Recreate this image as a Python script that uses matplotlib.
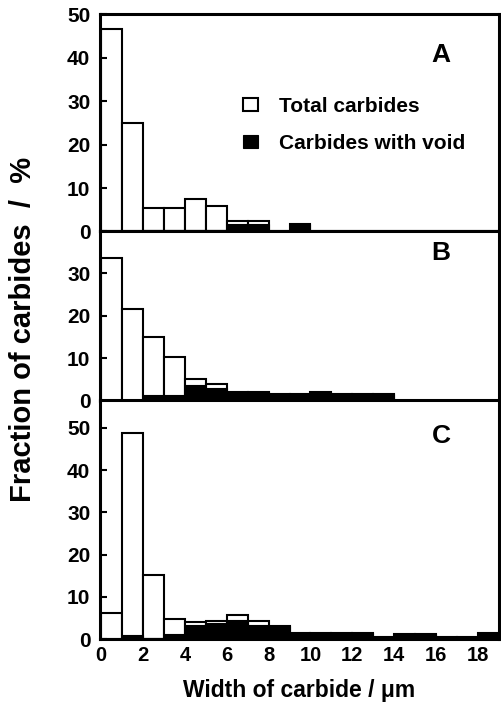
import matplotlib
matplotlib.use("Agg")
import matplotlib.pyplot as plt
import numpy as np

plt.rcParams['font.family'] = ['Liberation Sans', 'DejaVu Sans']
plt.rcParams['font.weight'] = 'bold'

# bin left edges, width 1 um
bins = np.arange(19)

total_A = [46.6, 25.0, 5.3, 5.5, 7.4, 5.9, 2.3, 2.4, 0, 1.8, 0, 0, 0, 0, 0, 0, 0, 0, 0]
void_A = [0, 0, 0.3, 0.3, 0.3, 0.3, 1.8, 1.8, 0, 1.8, 0, 0, 0, 0, 0, 0, 0, 0, 0]

total_B = [33.5, 21.5, 15.0, 10.3, 5.0, 3.9, 1.9, 1.9, 1.5, 1.5, 1.9, 1.5, 1.5, 1.5, 0, 0, 0, 0, 0]
void_B = [0, 0, 1.2, 1.2, 3.6, 2.9, 1.9, 1.9, 1.5, 1.5, 1.9, 1.5, 1.5, 1.5, 0, 0, 0, 0, 0]

total_C = [6.1, 48.9, 15.2, 4.7, 4.0, 4.4, 5.7, 4.2, 3.1, 1.4, 1.4, 1.4, 1.4, 0.6, 1.2, 1.2, 0.6, 0.6, 1.5]
void_C = [0, 1.0, 0.4, 1.2, 3.4, 3.8, 4.6, 3.4, 3.1, 1.4, 1.4, 1.4, 1.4, 0.6, 1.2, 1.2, 0.6, 0.6, 1.5]

panels = [
    ("A", total_A, void_A, 50, [0, 10, 20, 30, 40, 50]),
    ("B", total_B, void_B, 39.8, [0, 10, 20, 30]),
    ("C", total_C, void_C, 56.5, [0, 10, 20, 30, 40, 50]),
]
# axes boxes in figure fractions (left, bottom, width, height)
boxes = [
    (0.1992, 0.6722, 0.7948, 0.3074),
    (0.1992, 0.4327, 0.7948, 0.2395),
    (0.1992, 0.0946, 0.7948, 0.3382),
]
letter_y = [0.811, 0.871, 0.852]

fig = plt.figure(figsize=(5.02, 7.06), dpi=100)

for i, (name, tot, void, ytop, yt) in enumerate(panels):
    ax = fig.add_axes(boxes[i])
    tb = ax.bar(bins, tot, width=1, align='edge', color='white',
                edgecolor='black', linewidth=1.5)
    vb = ax.bar(bins, void, width=1, align='edge', color='black',
                edgecolor='black', linewidth=0.8)
    ax.set_xlim(-0.05, 19)
    ax.set_ylim(0, ytop)
    ax.set_yticks(yt)
    ax.set_xticks(range(0, 19, 2))
    ax.tick_params(axis='y', direction='in', length=5, width=1.5,
                   labelsize=15, pad=7)
    ax.tick_params(axis='x', length=0, labelsize=14.5, pad=5)
    for s in ax.spines.values():
        s.set_linewidth(2.2)
    ax.text(0.855, letter_y[i], name, transform=ax.transAxes,
            ha='center', va='center', fontsize=19, fontweight='bold')
    if i < 2:
        ax.tick_params(axis='x', labelbottom=False)
    if i == 0:
        ax.legend([tb, vb], ['Total carbides', 'Carbides with void'],
                  loc='upper left', bbox_to_anchor=(0.358, 0.62),
                  frameon=False, fontsize=15, handlelength=0.75,
                  handleheight=0.6, handletextpad=1.0, labelspacing=0.85,
                  borderpad=0, borderaxespad=0)
    if i == 2:
        ax.set_xlabel('Width of carbide / μm', fontsize=16.5,
                      fontweight='bold', labelpad=10)

fig.text(0.046, 0.533, 'Fraction of carbides  /  %', rotation=90,
         ha='center', va='center', fontsize=21, fontweight='bold')

fig.savefig('out.png', dpi=100)
